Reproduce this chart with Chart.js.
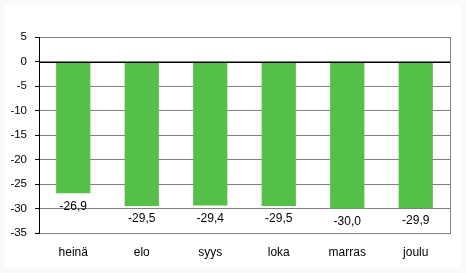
<!DOCTYPE html>
<html>
<head>
<meta charset="utf-8">
<script src="https://cdn.jsdelivr.net/npm/chart.js@4"></script>
<style>
  html, body { margin: 0; padding: 0; background: #fafafa; }
  #wrap { width: 466px; height: 273px; }
</style>
</head>
<body>
<div id="wrap"><canvas id="bar-chart"></canvas></div>
<script>
const months = ['heinä', 'elo', 'syys', 'loka', 'marras', 'joulu'];
const values = [-26.9, -29.5, -29.4, -29.5, -30.0, -29.9];
const yTicks = [5, 0, -5, -10, -15, -20, -25, -30, -35];

const FONT = "'Liberation Sans', Arial, sans-serif";

// frame + white panel behind the chart
const framePlugin = {
    id: 'frame',
    beforeDraw(chart) {
        const c = chart.ctx;
        c.save();
        c.fillStyle = '#fafafa';
        c.fillRect(0, 0, chart.width, chart.height);
        c.fillStyle = '#ffffff';
        c.fillRect(5, 5, 456, 263);
        c.restore();
    },
    afterDatasetsDraw(chart) {
        const c = chart.ctx, a = chart.chartArea;
        const y = chart.scales.y;
        c.save();
        c.lineWidth = 1;
        c.strokeStyle = '#808080';
        c.beginPath();
        c.moveTo(Math.round(a.right) + 0.5, Math.round(a.top));
        c.lineTo(Math.round(a.right) + 0.5, Math.round(a.bottom) + 1);
        c.stroke();
        // zero line on top of the bars
        c.strokeStyle = '#000000';
        c.beginPath();
        const y0 = Math.round(y.getPixelForValue(0)) + 0.5;
        c.moveTo(a.left, y0);
        c.lineTo(a.right, y0);
        c.stroke();
        c.restore();
    }
};

// value labels under each bar end
const valueLabels = {
    id: 'valueLabels',
    afterDatasetsDraw(chart) {
        const c = chart.ctx;
        const meta = chart.getDatasetMeta(0);
        c.save();
        c.font = '12px ' + FONT;
        c.fillStyle = '#000000';
        c.textAlign = 'center';
        c.textBaseline = 'middle';
        meta.data.forEach((bar, i) => {
            const txt = values[i].toFixed(1).replace('.', ',');
            c.fillText(txt, bar.x, bar.y + 13);
        });
        c.restore();
    }
};

new Chart(document.getElementById('bar-chart'), {
    type: 'bar',
    data: {
        labels: months,
        datasets: [{
            data: values,
            backgroundColor: '#55c047',
            categoryPercentage: 0.5,
            barPercentage: 1.0
        }]
    },
    options: {
        responsive: true,
        maintainAspectRatio: false,
        animation: false,
        devicePixelRatio: 1,
        layout: { padding: { top: 37, right: 16, left: 0, bottom: 0 } },
        plugins: {
            legend: { display: false },
            tooltip: { enabled: false }
        },
        scales: {
            x: {
                grid: { display: false, drawTicks: false },
                border: { display: false },
                ticks: {
                    color: '#000000',
                    font: { family: FONT, size: 12 },
                    padding: 12,
                    maxRotation: 0
                },
                afterFit(scale) { scale.height = 40; }
            },
            y: {
                min: -35,
                max: 5,
                afterBuildTicks(scale) {
                    scale.ticks = yTicks.map(v => ({ value: v }));
                },
                ticks: {
                    color: '#000000',
                    font: { family: FONT, size: 11.5 },
                    padding: 8
                },
                grid: {
                    color: '#808080',
                    tickColor: '#000000',
                    tickLength: 4,
                    lineWidth: 1
                },
                border: { color: '#000000', width: 1 },
                afterFit(scale) { scale.width = 39; }
            }
        }
    },
    plugins: [framePlugin, valueLabels]
});
</script>
</body>
</html>
